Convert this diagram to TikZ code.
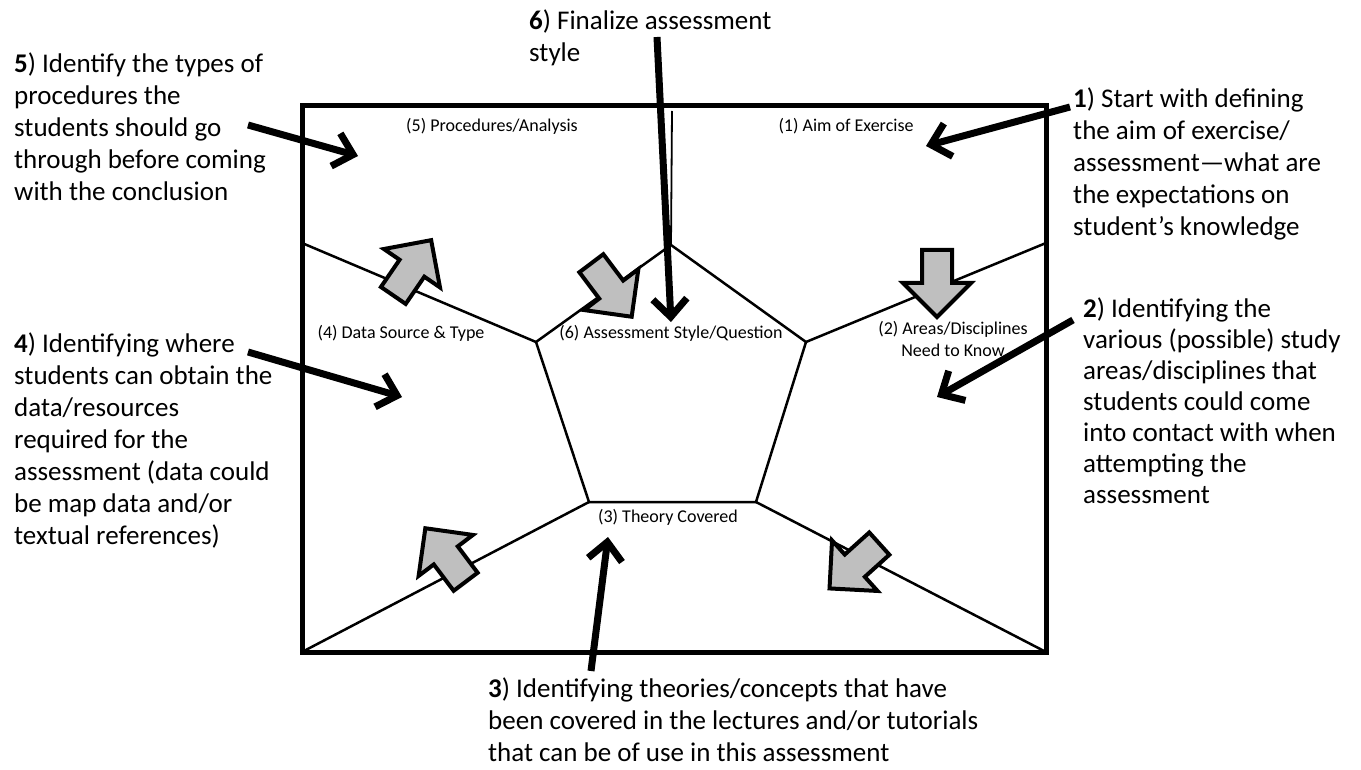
\documentclass[tikz,border=0pt]{standalone}
\usepackage{fontspec}
\setmainfont{Carlito}
\usepackage{tikz}
\usetikzlibrary{shapes.arrows,arrows.meta}

\begin{document}
\begin{tikzpicture}[x=1pt, y=-1pt]
    \tikzstyle{note} = [anchor=north west, align=left, inner sep=0pt, font=\fontsize{27}{32}\selectfont]
    \tikzstyle{area} = [inner sep=0pt, align=center, font=\fontsize{18}{22}\selectfont]
    \tikzstyle{pointer} = [line width=7pt, -{Straight Barb[length=18pt,width=34pt]}]
    \tikzstyle{flow} = [single arrow, draw, line width=4pt, fill=gray!50, inner sep=13pt,
                        minimum width=64pt, minimum height=67pt, single arrow head extend=19pt]
    \useasboundingbox (0,0) rectangle (1361,770);

    % Frame
    \coordinate (nw) at (302,106); \coordinate (se) at (1046,652);
    \coordinate (sw) at (302,652); \coordinate (ne) at (1046,106);
    \draw[line width=5pt] (nw) rectangle (se);

    % Pentagon and spokes
    \coordinate (t) at (671,245);  \coordinate (tt) at (672,111);
    \coordinate (l) at (536,342);  \coordinate (lt) at (302,243);
    \coordinate (r) at (806,342);  \coordinate (rt) at (1046,243);
    \coordinate (bl) at (589,502);
    \coordinate (br) at (756,502);
    \draw[line width=2.5pt] (t) -- (r) -- (br) -- (bl) -- (l) -- cycle;
    \draw[line width=2.5pt] (l) -- (lt) (r) -- (rt) (bl) -- (sw) (br) -- (se);
    \draw[line width=1.8pt] (t) -- (tt);

    % Areas
    \node[area] (a5) at (492,126) {(5) Procedures/Analysis};
    \node[area] (a1) at (846,126) {(1) Aim of Exercise};
    \node[area] (a4) at (401,333) {(4) Data Source \& Type};
    \node[area] (a6) at (671,333) {(6) Assessment Style/Question};
    \node[area] (a2) at (953,339) {(2) Areas/Disciplines\\Need to Know};
    \node[area] (a3) at (668,517) {(3) Theory Covered};

    % Flow arrows
    \node[flow, rotate=55.6] (f1) at (408,274) {};
    \node[flow, rotate=-53] (f2) at (607,284) {};
    \node[flow, rotate=-90] (f3) at (937,276) {};
    \node[flow, rotate=127] (f4) at (450,561) {};
    \node[flow, rotate=-138] (f5) at (860,561) {};

    % Notes
    \node[note] (n5) at (14,53) {\textbf{5}) Identify the types of\\procedures the\\students should go\\through before coming\\with the conclusion};
    \node[note] (n6) at (529,10) {\textbf{6}) Finalize assessment\\style};
    \node[note] (n1) at (1073,88) {\textbf{1}) Start with defining\\the aim of exercise/\\assessment—what are\\the expectations on\\student’s knowledge};
    \node[note, font=\fontsize{27}{31}\selectfont] (n2) at (1083,298) {\textbf{2}) Identifying the\\various (possible) study\\areas/disciplines that\\students could come\\into contact with when\\attempting the\\assessment};
    \node[note] (n4) at (14,333) {\textbf{4}) Identifying where\\students can obtain the\\data/resources\\required for the\\assessment (data could\\be map data and/or\\textual references)};
    \node[note] (n3) at (488,678) {\textbf{3}) Identifying theories/concepts that have\\been covered in the lectures and/or tutorials\\that can be of use in this assessment};

    % Pointers
    \coordinate (p5s) at (248,125); \coordinate (p5e) at (358,156);
    \coordinate (p6s) at (657,37);  \coordinate (p6e) at (671,322);
    \coordinate (p1s) at (1070,107); \coordinate (p1e) at (926,146);
    \coordinate (p4s) at (248,352); \coordinate (p4e) at (402,397);
    \coordinate (p2s) at (1073,320); \coordinate (p2e) at (937,397);
    \coordinate (p3s) at (591,671); \coordinate (p3e) at (608,537);
    \foreach \a in {5,6,1,4,2,3} \draw[pointer] (p\a s) -- (p\a e);

\end{tikzpicture}
\end{document}
